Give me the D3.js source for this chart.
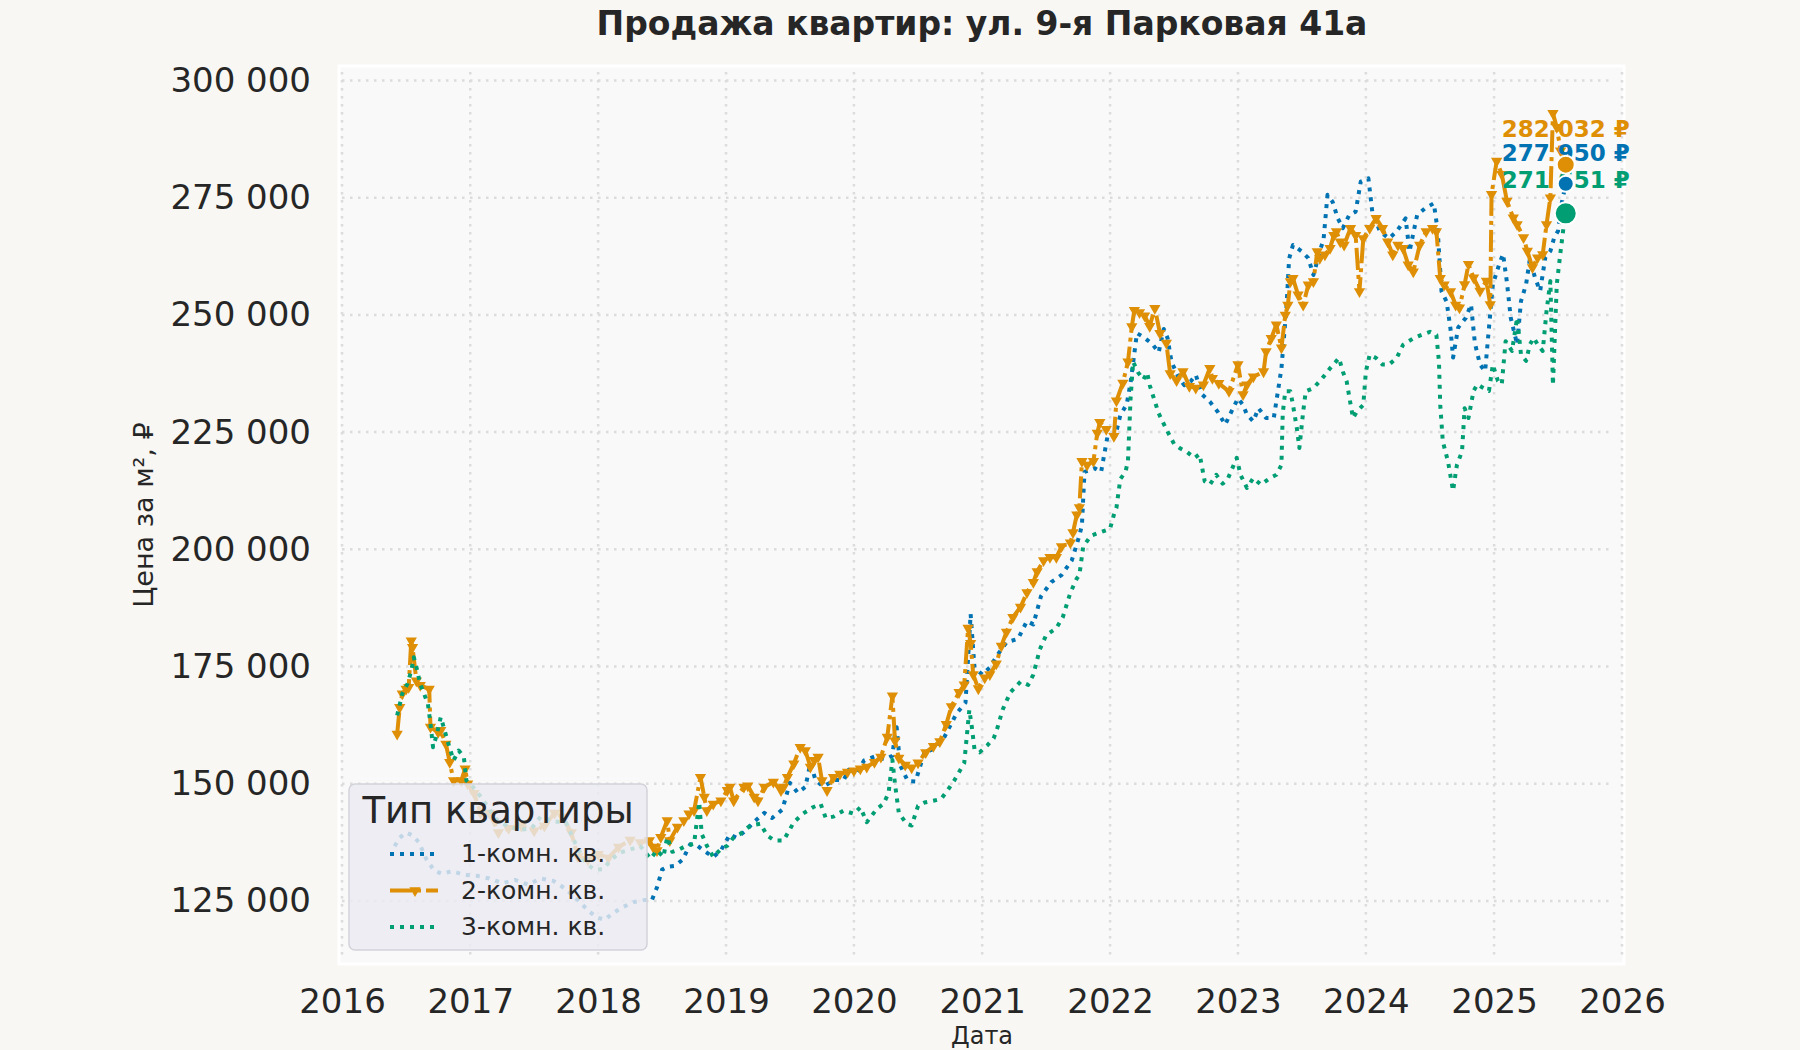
<!DOCTYPE html>
<html>
<head>
<meta charset="utf-8">
<script src="https://cdn.jsdelivr.net/npm/d3@7"></script>
<style>
  body { margin: 0; background: #f8f7f3; }
  text { font-family: "DejaVu Sans", sans-serif; fill: #262626; }
</style>
</head>
<body>
<script>
// --- data (decimal year, price per m²) ---
const seriesNames = ["1-комн. кв.", "2-комн. кв.", "3-комн. кв."]
const seriesColors = ["#0173b2", "#de8f05", "#029e73"]
const yearTicks = [2016, 2017, 2018, 2019, 2020, 2021, 2022, 2023, 2024, 2025, 2026]
const priceTicks = [125000, 150000, 175000, 200000, 225000, 250000, 275000, 300000]

const oneRoom = [
  [2016.41, 136700], [2016.45, 138500], [2016.50, 139600], [2016.55, 139000], [2016.60, 137500],
  [2016.66, 133800], [2016.72, 131500], [2016.78, 130800], [2016.86, 131400], [2016.95, 130600],
  [2017.05, 130400], [2017.15, 129800], [2017.25, 128800], [2017.35, 129500], [2017.45, 128500],
  [2017.55, 129800], [2017.65, 129300], [2017.75, 127500], [2017.85, 125000], [2017.92, 123000],
  [2017.99, 121500], [2018.05, 121000], [2018.12, 122500], [2018.20, 123800], [2018.28, 124800],
  [2018.36, 125200], [2018.42, 125200], [2018.46, 127900], [2018.50, 131700], [2018.54, 132300],
  [2018.60, 132500], [2018.66, 133800], [2018.72, 137100], [2018.78, 136700], [2018.84, 135500],
  [2018.90, 134400], [2018.96, 135800], [2019.03, 139200], [2019.08, 138500], [2019.15, 139900],
  [2019.22, 141900], [2019.30, 143800], [2019.36, 142700], [2019.44, 144500], [2019.50, 150200],
  [2019.56, 148100], [2019.62, 149300], [2019.66, 154400], [2019.70, 150800], [2019.76, 149400],
  [2019.85, 150800], [2019.92, 150800], [2019.96, 153000], [2020.02, 152300], [2020.08, 155000],
  [2020.16, 155800], [2020.24, 155200], [2020.30, 156000], [2020.33, 163000], [2020.36, 154000],
  [2020.42, 150600], [2020.48, 150500], [2020.55, 156700], [2020.62, 157400], [2020.70, 159700],
  [2020.80, 165000], [2020.87, 167300], [2020.91, 186200], [2020.94, 174800], [2021.00, 173300],
  [2021.06, 174800], [2021.11, 177100], [2021.19, 180200], [2021.28, 180900], [2021.35, 184700],
  [2021.40, 184000], [2021.46, 190000], [2021.54, 193000], [2021.62, 194500], [2021.70, 197600],
  [2021.76, 202900], [2021.78, 205200], [2021.80, 216500], [2021.88, 217300], [2021.93, 216500],
  [2021.98, 224100], [2022.04, 224100], [2022.08, 228600], [2022.13, 230900], [2022.16, 235500],
  [2022.21, 246100], [2022.26, 245300], [2022.33, 243800], [2022.38, 242000], [2022.42, 247000],
  [2022.45, 245000], [2022.48, 240000], [2022.53, 237000], [2022.58, 235000], [2022.63, 235800],
  [2022.67, 237200], [2022.72, 233000], [2022.78, 231500], [2022.84, 229400], [2022.90, 226600],
  [2022.96, 230000], [2023.00, 232200], [2023.04, 230800], [2023.07, 228700], [2023.12, 227300],
  [2023.16, 230100], [2023.22, 228000], [2023.28, 228000], [2023.34, 238600], [2023.38, 252000],
  [2023.40, 262000], [2023.43, 264900], [2023.50, 263500], [2023.55, 262100], [2023.59, 258500],
  [2023.64, 263500], [2023.67, 266300], [2023.70, 275600], [2023.74, 274100], [2023.78, 270600],
  [2023.82, 268500], [2023.87, 271300], [2023.92, 272000], [2023.96, 278400], [2024.02, 279100],
  [2024.05, 272000], [2024.11, 267800], [2024.18, 266300], [2024.24, 267800], [2024.31, 270600],
  [2024.34, 263500], [2024.40, 271300], [2024.46, 272700], [2024.53, 273800], [2024.56, 268000],
  [2024.59, 255000], [2024.63, 252800], [2024.66, 247000], [2024.68, 240900], [2024.72, 247300],
  [2024.78, 249400], [2024.82, 252200], [2024.85, 244000], [2024.89, 239400], [2024.93, 238000],
  [2024.99, 256500], [2025.04, 260800], [2025.07, 263000], [2025.10, 257000], [2025.13, 249400],
  [2025.18, 243700], [2025.21, 252900], [2025.25, 256500], [2025.28, 262000], [2025.32, 257900],
  [2025.36, 255100], [2025.40, 262200], [2025.44, 263600], [2025.47, 266500], [2025.50, 267900],
  [2025.53, 274000], [2025.56, 277950]
]

const twoRoom = [
  [2016.43, 160600], [2016.45, 166300], [2016.47, 169200], [2016.50, 170200], [2016.52, 170600],
  [2016.54, 180500], [2016.55, 179100], [2016.58, 172000], [2016.61, 171000], [2016.68, 170200],
  [2016.69, 162100], [2016.75, 161000], [2016.77, 161400], [2016.81, 158500], [2016.84, 154600],
  [2016.87, 150700], [2016.93, 150700], [2016.96, 153200], [2016.98, 150000], [2017.03, 148000],
  [2017.08, 143800], [2017.15, 143800], [2017.22, 139600], [2017.30, 140500], [2017.40, 141000],
  [2017.50, 140000], [2017.58, 141000], [2017.66, 143800], [2017.72, 143000], [2017.79, 139600],
  [2017.84, 134500], [2017.92, 133800], [2018.00, 135000], [2018.08, 134200], [2018.16, 136500],
  [2018.25, 138000], [2018.33, 137500], [2018.40, 137900], [2018.43, 136500], [2018.46, 135800],
  [2018.49, 138600], [2018.54, 142200], [2018.56, 137900], [2018.62, 140800], [2018.67, 142200],
  [2018.71, 143600], [2018.75, 144300], [2018.80, 151400], [2018.83, 147200], [2018.85, 144300],
  [2018.90, 145700], [2018.96, 146400], [2019.01, 148600], [2019.03, 149300], [2019.06, 146400],
  [2019.14, 149300], [2019.17, 149600], [2019.22, 147200], [2019.25, 146400], [2019.30, 149300],
  [2019.37, 150400], [2019.43, 148600], [2019.45, 149300], [2019.48, 151400], [2019.53, 154300],
  [2019.58, 157800], [2019.62, 157100], [2019.66, 153600], [2019.69, 155000], [2019.72, 155700],
  [2019.75, 150700], [2019.79, 148600], [2019.84, 151400], [2019.89, 152100], [2019.95, 152500],
  [2020.00, 152800], [2020.05, 153200], [2020.10, 153600], [2020.16, 154600], [2020.21, 155700],
  [2020.26, 160000], [2020.30, 168800], [2020.32, 159200], [2020.35, 155500], [2020.40, 154000],
  [2020.45, 153400], [2020.50, 154500], [2020.56, 156700], [2020.62, 158000], [2020.67, 159000],
  [2020.72, 162700], [2020.76, 166500], [2020.82, 169500], [2020.86, 171100], [2020.89, 183200],
  [2020.91, 180000], [2020.93, 173300], [2020.97, 170300], [2021.02, 172600], [2021.06, 173300],
  [2021.11, 175600], [2021.15, 179400], [2021.19, 182400], [2021.24, 185500], [2021.30, 187700],
  [2021.35, 190800], [2021.40, 193000], [2021.43, 195300], [2021.48, 197600], [2021.53, 198300],
  [2021.58, 198300], [2021.62, 200600], [2021.69, 201400], [2021.71, 203600], [2021.74, 207400],
  [2021.76, 208900], [2021.78, 218800], [2021.82, 218000], [2021.87, 218800], [2021.90, 224800],
  [2021.92, 227100], [2021.97, 225600], [2022.03, 224100], [2022.05, 231700], [2022.10, 235500],
  [2022.14, 240000], [2022.17, 247500], [2022.19, 251000], [2022.23, 250500], [2022.27, 249800],
  [2022.31, 247600], [2022.35, 251400], [2022.39, 246100], [2022.44, 244000], [2022.47, 237500],
  [2022.52, 236000], [2022.57, 237900], [2022.62, 234800], [2022.67, 234400], [2022.73, 235100],
  [2022.78, 238600], [2022.80, 236500], [2022.85, 235400], [2022.93, 233700], [2023.00, 239400],
  [2023.04, 233000], [2023.07, 235100], [2023.12, 236800], [2023.20, 237900], [2023.22, 242200],
  [2023.26, 245000], [2023.30, 247900], [2023.34, 243000], [2023.37, 250000], [2023.39, 252100],
  [2023.41, 257100], [2023.43, 257800], [2023.47, 254300], [2023.51, 252100], [2023.55, 256400],
  [2023.59, 257100], [2023.62, 263500], [2023.64, 262100], [2023.68, 262800], [2023.72, 264200],
  [2023.75, 267000], [2023.77, 267800], [2023.80, 265600], [2023.83, 264900], [2023.88, 268500],
  [2023.92, 267000], [2023.95, 255000], [2023.98, 266300], [2024.03, 268500], [2024.08, 270600],
  [2024.13, 268500], [2024.17, 265600], [2024.21, 262800], [2024.25, 264900], [2024.29, 264200],
  [2024.33, 260700], [2024.37, 259200], [2024.42, 264900], [2024.47, 267800], [2024.52, 268500],
  [2024.55, 267800], [2024.58, 257800], [2024.61, 256400], [2024.66, 255000], [2024.70, 252100],
  [2024.73, 251500], [2024.77, 256500], [2024.80, 260800], [2024.84, 257900], [2024.89, 255100],
  [2024.94, 257200], [2024.97, 252200], [2024.98, 275700], [2025.02, 282800], [2025.06, 280000],
  [2025.10, 274300], [2025.15, 270700], [2025.18, 269300], [2025.23, 266500], [2025.26, 263600],
  [2025.30, 260100], [2025.34, 262200], [2025.38, 262900], [2025.41, 269300], [2025.44, 275000],
  [2025.46, 293000], [2025.49, 290000], [2025.52, 285000], [2025.56, 282032]
]

const threeRoom = [
  [2016.43, 164600], [2016.47, 169200], [2016.51, 171300], [2016.54, 174100], [2016.56, 177000],
  [2016.58, 174900], [2016.61, 171300], [2016.64, 169200], [2016.67, 167000], [2016.69, 162800],
  [2016.71, 157800], [2016.74, 160600], [2016.77, 164200], [2016.80, 161400], [2016.83, 158500],
  [2016.87, 155000], [2016.91, 157100], [2016.95, 155700], [2016.97, 150700], [2017.02, 149400],
  [2017.10, 146600], [2017.20, 142500], [2017.30, 140800], [2017.40, 140200], [2017.48, 140500],
  [2017.55, 143000], [2017.65, 142000], [2017.75, 141700], [2017.82, 137400], [2017.90, 133200],
  [2017.97, 131700], [2018.04, 131800], [2018.10, 133800], [2018.17, 135300], [2018.25, 136000],
  [2018.33, 136700], [2018.41, 134000], [2018.46, 135800], [2018.51, 134400], [2018.54, 138600],
  [2018.58, 135500], [2018.64, 136100], [2018.69, 136800], [2018.75, 137200], [2018.79, 146100],
  [2018.81, 139300], [2018.85, 136800], [2018.90, 134400], [2018.96, 136100], [2019.01, 136800],
  [2019.06, 138600], [2019.11, 139300], [2019.19, 141100], [2019.27, 141500], [2019.32, 139000],
  [2019.38, 137900], [2019.45, 137900], [2019.53, 141800], [2019.60, 143600], [2019.68, 145000],
  [2019.74, 145700], [2019.78, 142700], [2019.84, 143000], [2019.92, 144300], [2020.00, 143600],
  [2020.05, 145000], [2020.10, 141800], [2020.18, 144700], [2020.23, 145700], [2020.27, 148000],
  [2020.30, 155100], [2020.32, 150000], [2020.35, 143800], [2020.41, 141500], [2020.45, 141100],
  [2020.50, 145300], [2020.55, 146000], [2020.62, 146400], [2020.68, 146800], [2020.73, 148600],
  [2020.78, 150600], [2020.86, 154400], [2020.90, 165800], [2020.92, 162000], [2020.94, 157400],
  [2020.98, 156700], [2021.04, 158200], [2021.09, 159700], [2021.12, 162000], [2021.16, 165800],
  [2021.22, 169500], [2021.30, 171800], [2021.36, 171100], [2021.40, 173300], [2021.45, 178600],
  [2021.50, 181700], [2021.58, 183200], [2021.63, 185500], [2021.69, 190800], [2021.74, 193800],
  [2021.76, 194500], [2021.79, 200600], [2021.85, 202900], [2021.92, 203600], [2022.00, 204400],
  [2022.03, 207400], [2022.05, 208900], [2022.08, 215000], [2022.12, 216500], [2022.14, 218800],
  [2022.16, 232000], [2022.18, 240000], [2022.22, 237700], [2022.26, 236200], [2022.29, 237700],
  [2022.31, 235000], [2022.34, 232400], [2022.38, 229000], [2022.44, 225600], [2022.50, 222500],
  [2022.55, 221500], [2022.60, 220800], [2022.66, 219500], [2022.70, 220300], [2022.74, 214500],
  [2022.78, 213800], [2022.83, 215900], [2022.88, 214000], [2022.92, 215000], [2022.99, 219500],
  [2023.02, 215900], [2023.07, 213100], [2023.12, 215200], [2023.18, 213800], [2023.25, 215200],
  [2023.30, 215900], [2023.34, 218000], [2023.35, 229000], [2023.37, 233700], [2023.41, 233700],
  [2023.43, 230800], [2023.46, 225900], [2023.48, 221600], [2023.51, 229400], [2023.53, 233700],
  [2023.59, 234400], [2023.66, 236500], [2023.72, 238600], [2023.79, 240800], [2023.82, 237900],
  [2023.85, 235800], [2023.88, 231000], [2023.90, 228000], [2023.93, 229400], [2023.98, 230800],
  [2024.00, 237900], [2024.03, 241500], [2024.08, 240800], [2024.13, 239400], [2024.18, 239400],
  [2024.24, 240800], [2024.29, 243600], [2024.37, 245000], [2024.43, 245700], [2024.50, 246400],
  [2024.55, 245700], [2024.57, 240000], [2024.58, 230800], [2024.60, 223000], [2024.64, 218800],
  [2024.68, 212500], [2024.71, 218000], [2024.75, 220900], [2024.77, 230100], [2024.80, 228000],
  [2024.84, 233800], [2024.87, 235200], [2024.91, 234500], [2024.96, 233800], [2024.99, 239400],
  [2025.03, 235900], [2025.06, 235200], [2025.09, 244400], [2025.14, 242300], [2025.18, 249400],
  [2025.21, 241600], [2025.25, 240200], [2025.28, 243700], [2025.31, 245100], [2025.34, 243700],
  [2025.38, 242300], [2025.41, 250800], [2025.44, 257200], [2025.46, 235000], [2025.49, 256500],
  [2025.52, 263600], [2025.54, 268000], [2025.56, 271651]
]

const seriesData = [oneRoom, twoRoom, threeRoom]

// --- layout ---
const W = 1800, H = 1050
const plot = { left: 342, right: 1622, top: 68, bottom: 962 }

const toDate = t => {
  const yr = Math.floor(t)
  const a = new Date(yr, 0, 1), b = new Date(yr + 1, 0, 1)
  return new Date(+a + (t - yr) * (b - a))
}
const fmt = v => d3.format(",")(v).replace(/,/g, "\u00a0")

const x = d3.scaleTime().domain([toDate(2016), toDate(2026)]).range([plot.left, plot.right])
const y = d3.scaleLinear().domain([112000, 302650]).range([plot.bottom, plot.top])

const svg = d3.select("body").append("svg").attr("width", W).attr("height", H)
svg.append("rect").attr("width", W).attr("height", H).attr("fill", "#f8f7f3")

svg.append("rect")
  .attr("x", plot.left - 3).attr("y", plot.top - 2)
  .attr("width", plot.right - plot.left + 5).attr("height", plot.bottom - plot.top + 4)
  .attr("fill", "#f9f9fa").attr("stroke", "#ffffff").attr("stroke-width", 3)

// grid
const grid = svg.append("g").attr("stroke", "#dcdcdc").attr("stroke-width", 2.5).attr("stroke-dasharray", "2.5,5.5")
grid.selectAll(".gx").data(yearTicks).enter().append("line")
  .attr("x1", d => x(toDate(d))).attr("x2", d => x(toDate(d)))
  .attr("y1", plot.top + 4).attr("y2", plot.bottom - 2)
grid.selectAll(".gy").data(priceTicks).enter().append("line")
  .attr("x1", plot.left).attr("x2", plot.right - 8)
  .attr("y1", d => y(d)).attr("y2", d => y(d))

// axes
const yAxis = svg.append("g")
  .attr("transform", "translate(" + (plot.left - 3) + ",0)")
  .call(d3.axisLeft(y).tickValues(priceTicks).tickSize(0).tickPadding(28).tickFormat(fmt))
const xAxis = svg.append("g")
  .attr("transform", "translate(0," + plot.bottom + ")")
  .call(d3.axisBottom(x).tickValues(yearTicks.map(toDate)).tickSize(0).tickPadding(27).tickFormat(d3.timeFormat("%Y")))
;[yAxis, xAxis].forEach(g => {
  g.select(".domain").remove()
  g.selectAll("text").attr("font-size", 34).attr("fill", "#262626").attr("font-family", "DejaVu Sans")
})

// titles
svg.append("text").attr("x", (plot.left + plot.right) / 2).attr("y", 35)
  .attr("text-anchor", "middle").attr("font-size", 33).attr("font-weight", "bold")
  .text("Продажа квартир: ул. 9-я Парковая 41а")
svg.append("text").attr("transform", "translate(153," + ((plot.top + plot.bottom) / 2) + ") rotate(-90)")
  .attr("text-anchor", "middle").attr("font-size", 27)
  .text("Цена за м², ₽")
svg.append("text").attr("x", (plot.left + plot.right) / 2).attr("y", 1044)
  .attr("text-anchor", "middle").attr("font-size", 24)
  .text("Дата")

// lines
const line = d3.line().x(d => x(toDate(d[0]))).y(d => y(d[1]))
const styles = [
  { width: 4, dash: "4,6", r: 8, lift: 23 },
  { width: 4, dash: "22,5,4,5", r: 9, lift: 28 },
  { width: 4, dash: "4,6", r: 11, lift: 25 }
]
seriesData.forEach((s, i) => {
  svg.append("path").datum(s)
    .attr("d", line)
    .attr("fill", "none")
    .attr("stroke", seriesColors[i])
    .attr("stroke-width", styles[i].width)
    .attr("stroke-dasharray", styles[i].dash)
    .attr("stroke-linejoin", "round")
  if (i === 1) {
    svg.append("g").selectAll("path").data(s).enter().append("path")
      .attr("d", d3.symbol(d3.symbolTriangle, 55))
      .attr("transform", d => "translate(" + x(toDate(d[0])) + "," + y(d[1]) + ") rotate(180)")
      .attr("fill", seriesColors[i])
  }
})

// last value labels and dots
const ends = seriesData.map((s, i) => ({ i, t: s[s.length - 1][0], v: s[s.length - 1][1] }))
ends.forEach(e => {
  svg.append("text")
    .attr("x", x(toDate(e.t))).attr("y", y(e.v) - styles[e.i].lift)
    .attr("text-anchor", "middle").attr("font-size", 23).attr("font-weight", "bold")
    .style("fill", seriesColors[e.i])
    .text(fmt(e.v) + " ₽")
})
ends.forEach(e => {
  svg.append("circle")
    .attr("cx", x(toDate(e.t))).attr("cy", y(e.v)).attr("r", styles[e.i].r)
    .attr("fill", seriesColors[e.i]).attr("stroke", "#ffffff").attr("stroke-width", 2)
})

// legend
const lg = svg.append("g")
lg.append("rect").attr("x", 349).attr("y", 784).attr("width", 298).attr("height", 166).attr("rx", 6)
  .attr("fill", "#eaeaf2").attr("fill-opacity", 0.82).attr("stroke", "#d2d2da").attr("stroke-width", 1.5)
lg.append("text").attr("x", 498).attr("y", 823).attr("text-anchor", "middle").attr("font-size", 37)
  .text("Тип квартиры")
seriesNames.forEach((n, i) => {
  const by = 862 + i * 36.5
  lg.append("line").attr("x1", 390).attr("x2", 438).attr("y1", by - 8).attr("y2", by - 8)
    .attr("stroke", seriesColors[i]).attr("stroke-width", styles[i].width)
    .attr("stroke-dasharray", styles[i].dash)
  if (i === 1) {
    lg.append("path").attr("d", d3.symbol(d3.symbolTriangle, 55))
      .attr("transform", "translate(415," + (by - 8) + ") rotate(180)")
      .attr("fill", seriesColors[i])
  }
  lg.append("text").attr("x", 461).attr("y", by).attr("font-size", 25).text(n)
})
</script>
</body>
</html>
